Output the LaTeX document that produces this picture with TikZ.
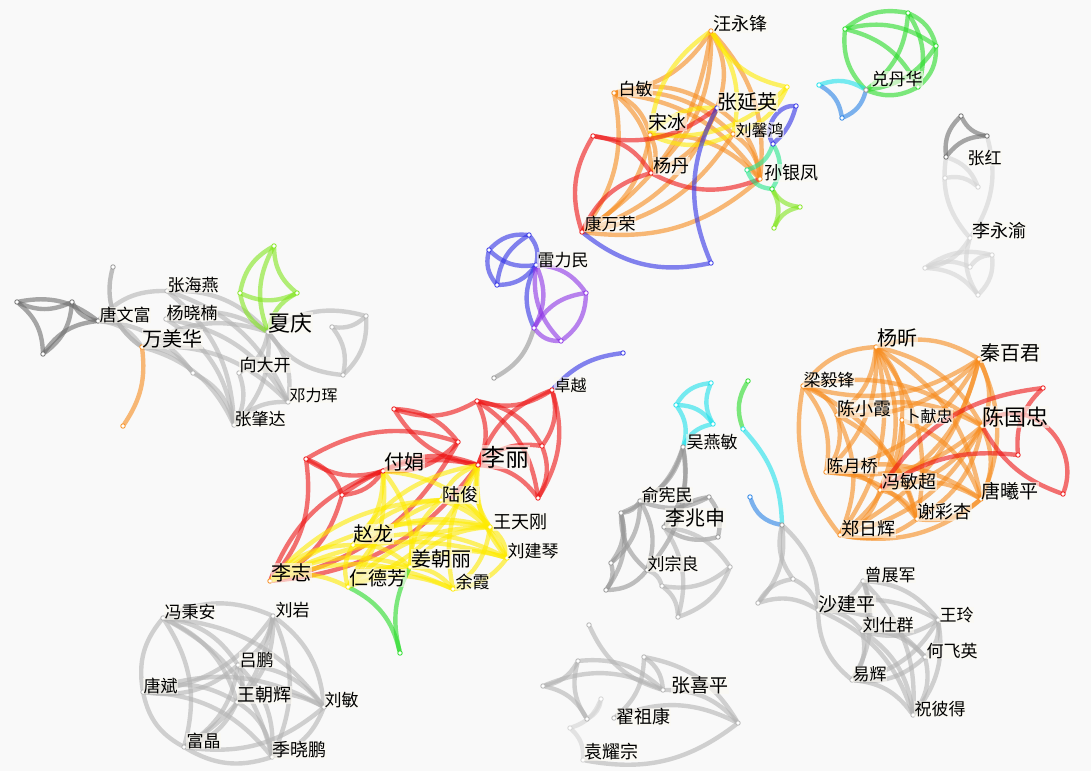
\documentclass[tikz,border=0pt]{standalone}
\usepackage{fontspec}
\newfontfamily\cjk{Noto Sans CJK SC}
\pgfdeclarelayer{bgl}
\pgfdeclarelayer{edges}
\pgfsetlayers{bgl,edges,main}
\definecolor{org}{RGB}{247,140,30}
\definecolor{yel}{RGB}{255,235,0}
\definecolor{red}{RGB}{238,20,20}
\definecolor{blu}{RGB}{50,50,230}
\definecolor{pur}{RGB}{140,50,230}
\definecolor{grn}{RGB}{40,220,40}
\definecolor{lim}{RGB}{130,230,30}
\definecolor{cya}{RGB}{30,225,235}
\definecolor{gcy}{RGB}{40,230,140}
\definecolor{lbl}{RGB}{40,130,230}
\definecolor{dgr}{RGB}{110,110,110}
\definecolor{mgr}{RGB}{150,150,150}
\definecolor{lgr}{RGB}{180,180,180}
\definecolor{fgr}{RGB}{212,212,212}
\definecolor{bgc}{RGB}{249,249,249}
\definecolor{labfill}{RGB}{252,250,242}
\tikzset{
  dot/.style={circle, inner sep=0pt, minimum size=4.5pt, draw=#1, fill=white, line width=0.8pt},
  ed/.style={draw=#1, line width=4.4pt, draw opacity=0.6, line cap=round},
  lab/.style={anchor=west, inner sep=0.5pt, text=black, fill=labfill, fill opacity=0.6, text opacity=1, font=\cjk\fontsize{#1}{#1}\selectfont},
}
\begin{document}
\begin{tikzpicture}[x=1pt,y=-1pt]
\begin{pgfonlayer}{bgl}
\fill[bgc] (0,0) rectangle (1091,771);
\end{pgfonlayer}
\useasboundingbox (0,0) rectangle (1091,771);
% ---------- nodes ----------
\foreach \n/\c/\x/\y in {
 wyf/org/711/31, y1/yel/787/87, bm/org/614/93, zyy/blu/717/108, b1/blu/796/106, sb/org/650/135,
 r1/red/593/136, lxh/org/733/134, b2/blu/773/144, yd/red/651/173, g1/gcy/747/170, syf/org/760/179,
 g2/grn/772/189, l1/lim/800/207, l2/lim/774/228, kwr/red/582/232, b3/blu/711/263,
 G1/grn/845/29, G2/grn/908/13, G3/grn/936/46, G4/grn/918/87, G5/mgr/866/90, C1/cya/819/85, C2/lbl/842/118,
 H1/dgr/961/116, H2/dgr/987/136, zh/dgr/946/157, F1/fgr/945/178, F2/fgr/978/187, lyy/fgr/970/238,
 F3/fgr/925/268, F4/fgr/992/255, F5/fgr/978/295, F6/fgr/970/267,
 L1/dgr/17/302, L2/dgr/72/302, L3/dgr/43/354, twf/dgr/98/321, T0/mgr/113/267,
 zhy/lgr/167/291, yxn/lgr/166/319, wmh/org/142/347, N1/lgr/193/373, xq/lgr/268/332, xdk/lgr/239/373,
 dlh/lgr/288/402, zzd/lgr/234/425, R1/lgr/366/316, R2/lgr/332/327, R3/lgr/343/375,
 Q1/lim/274/246, Q2/lim/240/293, Q3/lim/297/293, O1/org/123/426,
 P1/blu/529/235, P2/blu/489/250, P3/blu/497/285, lml/blu/536/265, P4/pur/586/293, P5/pur/561/341,
 P6/pur/534/328, P7/mgr/494/378,
 zy/red/552/390, B4/blu/623/353, Ra/red/477/401, Rb/red/394/409, Rc/red/458/442, Rd/red/542/446,
 Re/red/306/459, fj/red/383/471, ll/red/478/465, Rf/red/342/495, Rg/red/538/498, lz/org/270/581,
 lj/yel/441/500, wtg/yel/490/527, zl/yel/353/545, ljq/yel/507/558, jzl/yel/410/567, yx/yel/453/589,
 rdf/yel/348/587, GG/grn/400/653,
 yxz/org/876/347, qbj/org/979/359, lyf/org/803/386, cxx/org/837/415, bxz/org/902/420, cgz/org/982/426,
 cyq/org/826/472, fmc/org/880/490, txp/org/981/499, xcx/org/917/519, zrh/org/840/535,
 RR1/red/1043/388, RR2/red/1018/455, RR3/red/1063/494,
 W1/cya/711/383, W2/cya/676/405, W3/cya/713/424, wym/mgr/683/447, V1/grn/748/381, V2/cya/743/429,
 V3/mgr/782/525, V4/lbl/750/497, yxm/mgr/640/501, ljs/mgr/664/527, lzl/mgr/647/570, X1/mgr/621/513,
 X2/mgr/611/563, X3/mgr/709/497, X4/mgr/718/537, X5/mgr/606/590, Y1/lgr/730/567, Y2/lgr/662/586,
 Y3/lgr/678/617, Z1/lgr/758/603, Z2/lgr/793/579,
 zzj/lgr/863/581, sjp/lgr/818/610, wl/lgr/938/620, lsq/lgr/862/631, hfy/lgr/925/657, yh/lgr/852/680, zbd/lgr/913/715,
 fba/lgr/163/618, ly/lgr/273/616, lp/lgr/238/665, tb/lgr/143/692, wzh/lgr/237/702, lm/lgr/324/707,
 fjj/lgr/184/747, jxp/lgr/272/757,
 K0/lgr/589/625, K1/lgr/578/661, K2/lgr/543/686, K3/lgr/587/719, K4/lgr/644/657, zxp/lgr/663/690,
 K5/lgr/738/723, zzk/lgr/614/718, ywz/fgr/583/760, K6/fgr/601/699, K7/fgr/570/728}
 \node[dot=\c] (\n) at (\x,\y) {};
% ---------- edges ----------
\begin{pgfonlayer}{edges}
% cluster A
\foreach \a/\b in {wyf/bm, wyf/kwr, wyf/yd, wyf/syf, wyf/zyy, bm/zyy, bm/yd, bm/syf, bm/kwr, bm/lxh,
  zyy/kwr, zyy/syf, zyy/yd, sb/kwr, sb/syf, sb/yd, syf/kwr, lxh/kwr, lxh/syf, bm/sb}
  \draw[ed=org, bend left=24] (\a) to (\b);
\foreach \a/\b in {y1/wyf, sb/wyf, wyf/lxh, y1/sb, sb/zyy, lxh/sb, y1/lxh}
  \draw[ed=yel, bend left=24] (\a) to (\b);
\foreach \a/\b in {zyy/r1, r1/yd, kwr/r1, kwr/yd, syf/yd}
  \draw[ed=red, bend left=24] (\a) to (\b);
\draw[ed=blu, bend left=25] (b3) to (zyy);
\draw[ed=blu, bend right=25] (kwr) to (b3);
\draw[ed=blu, bend left=15] (b1) to (b2);
\draw[ed=blu, bend right=60] (b1) to (b2);
\draw[ed=gcy, bend left=25] (b2) to (g1);
\draw[ed=gcy, bend right=30] (g1) to (g2);
\draw[ed=gcy, bend right=30] (g2) to (b2);
\foreach \a/\b in {g2/l1, l2/g2, l1/l2} \draw[ed=lim, bend right=25] (\a) to (\b);
% cluster B
\foreach \a/\b in {G1/G2, G2/G3, G1/G3, G5/G1, G2/G5, G2/G4, G3/G4, G1/G4, G3/G5, G4/G5}
  \draw[ed=grn, bend left=24] (\a) to (\b);
\draw[ed=cya, bend left=25] (C1) to (G5);
\draw[ed=lbl, bend left=25] (G5) to (C2);
\draw[ed=lbl, bend right=25] (C2) to (C1);
% cluster C
\draw[ed=dgr, bend right=25] (H1) to (H2);
\draw[ed=dgr, bend left=25] (zh) to (H1);
\draw[ed=dgr, bend right=25] (H2) to (zh);
\foreach \a/\b in {zh/F2, H2/lyy, lyy/zh, F1/F2, lyy/F3, F5/lyy, F3/F4, F3/F5, F4/F5, F6/F4, F3/F6}
  \draw[ed=fgr, bend left=24] (\a) to (\b);
% cluster D
\foreach \a/\b in {L2/L1, L1/L3, L2/L3, L1/twf, twf/L2, L3/twf} \draw[ed=dgr, bend left=24] (\a) to (\b);
\draw[ed=mgr, bend right=35] (T0) to (wmh);
\foreach \a/\b in {twf/zhy, twf/N1, twf/wmh, zhy/xq, zhy/zzd, zhy/dlh, yxn/xq, yxn/zzd, yxn/dlh,
  wmh/xq, wmh/dlh, wmh/zzd, wmh/N1, xq/R1, R3/xq, xq/zzd, xq/dlh, xq/xdk, R1/R2, R1/R3, R2/R3,
  zzd/dlh, N1/zzd, xdk/zzd}
  \draw[ed=lgr, bend left=24] (\a) to (\b);
\foreach \a/\b in {Q1/Q2, Q1/Q3, Q2/Q3, Q1/xq, Q2/xq, Q3/xq} \draw[ed=lim, bend right=24] (\a) to (\b);
\draw[ed=org, bend left=20] (wmh) to (O1);
% cluster E
\draw[ed=blu, bend left=25] (P2) to (P1);
\draw[ed=blu, bend right=25] (P2) to (P3);
\draw[ed=blu, bend right=25] (P3) to (lml);
\draw[ed=blu, bend left=25] (P1) to (lml);
\draw[ed=blu, bend left=25] (P3) to (P1);
\draw[ed=blu, bend left=25] (lml) to (P2);
\draw[ed=blu, bend right=25] (lml) to (P6);
\foreach \a/\b in {lml/P4, P5/lml, lml/P6, P4/P5, P6/P4, P5/P6} \draw[ed=pur, bend left=25] (\a) to (\b);
\draw[ed=mgr, bend left=22] (P6) to (P7);
% cluster F
\foreach \a/\b in {zy/Ra, ll/zy, zy/Rd, zy/Rg, Ra/Rb, Ra/ll, Ra/Rd, Ra/Rg, ll/Rb, Rb/Rc, Re/Rc, fj/Re,
  Re/Rf, Re/lz, fj/Rf, lz/fj, fj/ll, Rf/lz, Rf/ll, ll/Rd, ll/Rg, Rd/Rg, ll/lz, Rc/lz, Rc/fj}
  \draw[ed=red, bend left=24] (\a) to (\b);
\draw[ed=blu, bend left=20] (zy) to (B4);
\foreach \a/\b in {lz/rdf, lz/zl, lz/jzl, lz/lj, lz/wtg, lz/ljq, lz/yx, rdf/zl, rdf/jzl, rdf/lj, rdf/wtg,
  rdf/yx, zl/jzl, zl/lj, zl/wtg, zl/ljq, zl/ll, jzl/lj, jzl/wtg, jzl/ljq, jzl/yx, lj/wtg, lj/ljq, lj/ll,
  wtg/ljq, wtg/ll, wtg/yx, ljq/ll, ljq/yx, yx/ll, fj/zl, fj/jzl, fj/wtg, fj/rdf, ll/rdf}
  \draw[ed=yel, bend left=22] (\a) to (\b);
\draw[ed=grn, bend left=25] (rdf) to (GG);
\draw[ed=grn, bend left=20] (GG) to (jzl);
% cluster G
\foreach \a/\b in {yxz/qbj, lyf/yxz, yxz/cxx, yxz/bxz, yxz/cgz, yxz/cyq, yxz/fmc, yxz/txp, yxz/xcx,
  yxz/zrh, qbj/lyf, qbj/cxx, qbj/cgz, qbj/fmc, qbj/txp, qbj/zrh, qbj/cyq, lyf/cxx, lyf/cgz, zrh/lyf,
  lyf/cyq, lyf/xcx, cxx/cgz, cxx/cyq, cxx/xcx, cxx/zrh, bxz/fmc, bxz/txp, bxz/zrh, cgz/cyq, cgz/fmc,
  cgz/txp, cgz/zrh, cgz/xcx, cyq/fmc, cyq/xcx, cyq/txp, fmc/xcx, fmc/txp, fmc/zrh, txp/xcx, txp/zrh, xcx/zrh}
  \draw[ed=org, bend left=24] (\a) to (\b);
\draw[ed=red, bend left=25] (fmc) to (RR1);
\draw[ed=red, bend right=25] (RR1) to (RR2);
\draw[ed=red, bend left=20] (fmc) to (RR2);
\draw[ed=red, out=40, in=70, looseness=1.3] (cgz) to (RR3);
\draw[ed=red, bend left=20] (RR3) to (cgz);
% cluster H
\foreach \a/\b in {W2/W1, W3/W1, W2/W3, W2/wym, wym/W3} \draw[ed=cya, bend left=25] (\a) to (\b);
\draw[ed=grn, bend right=25] (V1) to (V2);
\draw[ed=cya, bend left=20] (V2) to (V3);
\draw[ed=lbl, bend right=30] (V4) to (V3);
\foreach \a/\b in {wym/yxm, wym/ljs, wym/lzl, wym/X1, yxm/X1, yxm/X2, ljs/X3, X4/ljs, X3/X4, X1/X2,
  X1/X5, X2/X5, lzl/X5, lzl/X1, yxm/lzl, X3/yxm}
  \draw[ed=mgr, bend left=24] (\a) to (\b);
\foreach \a/\b in {ljs/Y1, Y1/Y2, Y1/Y3, Y2/Y3, ljs/Y3, lzl/Y2, V3/Z1, Z2/V3, Z1/Z2, Z1/sjp, Z2/sjp, V3/sjp}
  \draw[ed=lgr, bend left=24] (\a) to (\b);
% cluster I
\foreach \a/\b in {zzj/sjp, zzj/wl, zzj/lsq, zzj/yh, zzj/zbd, sjp/wl, sjp/lsq, sjp/hfy, yh/sjp, sjp/zbd,
  wl/lsq, wl/hfy, wl/yh, wl/zbd, lsq/hfy, lsq/yh, lsq/zbd, hfy/yh, hfy/zbd, yh/zbd}
  \draw[ed=lgr, bend left=24] (\a) to (\b);
% cluster J
\foreach \a/\b in {fba/ly, fba/lp, tb/fba, fba/wzh, fba/lm, fba/fjj, fba/jxp, ly/lp, ly/wzh, ly/lm, ly/fjj,
  ly/jxp, ly/tb, lp/tb, lp/wzh, lp/lm, lp/fjj, lp/jxp, tb/wzh, fjj/tb, tb/lm, tb/jxp, wzh/lm, wzh/fjj,
  wzh/jxp, lm/jxp, lm/fjj, jxp/fjj}
  \draw[ed=lgr, bend left=24] (\a) to (\b);
% cluster K
\foreach \a/\b in {K1/K2, K2/K3, K3/K1, K2/zxp, K1/zxp, K4/zxp, K4/K5, K4/zzk, zxp/K5, K5/ywz, zzk/K5}
  \draw[ed=lgr, bend left=24] (\a) to (\b);
\draw[ed=lgr, bend right=24] (K0) to (zxp);
\foreach \a/\b in {K6/K7, K6/K3, K7/ywz} \draw[ed=fgr, bend left=24] (\a) to (\b);
\end{pgfonlayer}
% ---------- labels ----------
\foreach \n/\s/\x/\y/\t in {
 wyf/18/713/24/汪永锋, bm/17/618/89/白敏, zyy/20/717/102/张延英, sb/19/648/122/宋冰, lxh/16/735/130/刘馨鸿,
 yd/18/653/166/杨丹, syf/18/764/173/孙银凤, kwr/17/584/224/康万荣, G5/17/871/79/兑丹华, zh/17/967/158/张红,
 lyy/18/972/231/李永渝, twf/17/99/315/唐文富, zhy/17/167/285/张海燕, yxn/17/166/313/杨晓楠,
 wmh/20/142/339/万美华, xq/22/268/323/夏庆, xdk/17/239/365/向大开, dlh/16/289/395/邓力珲,
 zzd/17/234/419/张肇达, lml/17/537/260/雷力民, zy/16/554/385/卓越, fj/20/384/462/付娟, ll/24/481/457/李丽,
 lj/18/442/495/陆俊, wtg/18/493/522/王天刚, zl/20/353/534/赵龙, ljq/17/507/551/刘建琴, jzl/20/411/559/姜朝丽,
 yx/17/455/582/余霞, rdf/19/349/578/仁德芳, lz/20/271/573/李志, yxz/20/877/338/杨昕, qbj/20/980/353/秦百君,
 lyf/17/803/380/梁毅锋, cxx/18/837/409/陈小霞, bxz/16/904/416/卜献忠, cgz/22/982/417/陈国忠,
 cyq/17/826/466/陈月桥, fmc/18/882/482/冯敏超, txp/19/981/491/唐曦平, xcx/18/917/512/谢彩杏,
 zrh/18/841/529/郑日辉, wym/17/686/442/吴燕敏, yxm/17/641/495/俞宪民, ljs/20/665/518/李兆申,
 lzl/17/647/564/刘宗良, fba/17/164/612/冯秉安, ly/17/275/610/刘岩, lp/17/239/660/吕鹏, tb/17/143/686/唐斌,
 wzh/18/237/695/王朝辉, lm/17/324/700/刘敏, fjj/17/186/741/富晶, jxp/18/272/750/季晓鹏,
 zzj/17/864/575/曾展军, sjp/19/818/604/沙建平, wl/17/939/615/王玲, lsq/17/862/625/刘仕群,
 hfy/17/926/651/何飞英, yh/17/852/674/易辉, zbd/17/914/709/祝彼得, zxp/19/671/685/张喜平,
 zzk/18/616/717/翟祖康, ywz/18/584/752/袁耀宗}
 \node[lab=\s] (t\n) at (\x,\y) {\t};
\end{tikzpicture}
\end{document}
